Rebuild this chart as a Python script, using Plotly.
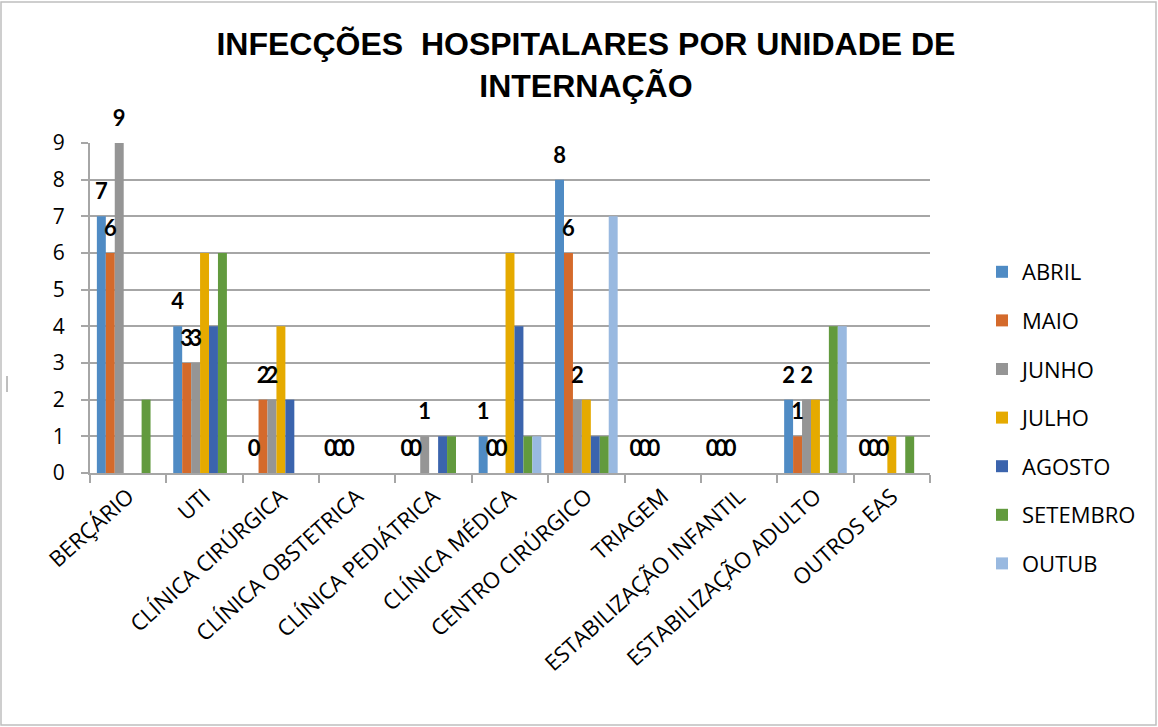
import plotly.graph_objects as go

categories = ["BERÇÁRIO", "UTI", "CLÍNICA CIRÚRGICA", "CLÍNICA OBSTETRICA",
              "CLÍNICA PEDIÁTRICA", "CLÍNICA MÉDICA", "CENTRO CIRÚRGICO",
              "TRIAGEM", "ESTABILIZAÇÃO INFANTIL", "ESTABILIZAÇÃO ADULTO", "OUTROS EAS"]

abril    = [7, 4, 0, 0, 0, 1, 8, 0, 0, 2, 0]
maio     = [6, 3, 2, 0, 0, 0, 6, 0, 0, 1, 0]
junho    = [9, 3, 2, 0, 1, 0, 2, 0, 0, 2, 0]
julho    = [0, 6, 4, 0, 0, 6, 2, 0, 0, 2, 1]
agosto   = [0, 4, 2, 0, 1, 4, 1, 0, 0, 0, 0]
setembro = [2, 6, 0, 0, 1, 1, 1, 0, 0, 4, 1]
outub    = [0, 0, 0, 0, 0, 1, 7, 0, 0, 4, 0]

series_names = ["ABRIL", "MAIO", "JUNHO", "JULHO", "AGOSTO", "SETEMBRO", "OUTUB"]
series_values = [abril, maio, junho, julho, agosto, setembro, outub]
labeled_series = ["ABRIL", "MAIO", "JUNHO"]
colors = ["#4F8BC4", "#D46A2B", "#959595", "#E5AA00", "#3B64AD", "#629A3E", "#99B9E0"]

fig = go.Figure()
for name, vals, col in zip(series_names, series_values, colors):
    fig.add_trace(go.Bar(
        x=categories, y=vals, name=name, legendgroup=name,
        marker=dict(color=col, line=dict(width=0)),
    ))

for name, vals in zip(series_names, series_values):
    txt = [str(v) for v in vals] if name in labeled_series else ["" for v in vals]
    fig.add_trace(go.Scatter(
        x=categories, y=vals, mode="markers+text", text=txt,
        textposition="top center",
        textfont=dict(family="Lato", size=22, color="black", weight="bold"),
        marker=dict(size=17, opacity=0),
        showlegend=False, hoverinfo="skip", cliponaxis=False,
    ))

L, R, T, B = 90, 228, 143, 254
pw = 1158 - L - R
ph = 727 - T - B

fig.update_layout(
    width=1158, height=727, autosize=False,
    margin=dict(l=L, r=R, t=T, b=B, pad=0),
    paper_bgcolor="white", plot_bgcolor="white",
    barmode="group", bargap=0.18, bargroupgap=0,
    scattermode="group", scattergap=0.18,
    title=dict(
        text="INFECÇÕES\u00a0 HOSPITALARES POR UNIDADE DE<br>INTERNAÇÃO",
        font=dict(family="Liberation Sans", size=32, color="black", weight="bold"),
        x=0.506, xanchor="center", y=1 - 55 / 727, yanchor="middle",
    ),
    font=dict(family="Open Sans", color="black"),
    legend=dict(
        x=(982 - L) / pw, xanchor="left", y=(473 - 251) / ph, yanchor="top",
        font=dict(family="Open Sans", size=22, color="black"),
        tracegroupgap=17, itemwidth=30, bgcolor="rgba(0,0,0,0)",
        maxheight=500,
    ),
    showlegend=True,
)

fig.update_yaxes(
    range=[0, 9], dtick=1, showgrid=True, gridcolor="#A6A6A6", gridwidth=2,
    showline=True, linecolor="#A6A6A6", linewidth=2,
    ticks="outside", ticklen=7, tickcolor="#A6A6A6", tickwidth=2,
    ticklabelstandoff=12,
    tickfont=dict(family="Open Sans", size=21, color="black"),
    zeroline=False,
)
fig.update_xaxes(
    showline=True, linecolor="#A6A6A6", linewidth=2,
    ticks="outside", tickson="boundaries", ticklen=8, tickcolor="#A6A6A6", tickwidth=2,
    tickangle=-42, tickfont=dict(family="Open Sans", size=22, color="black"),
)

# outer chart frame
fig.add_shape(type="rect", xref="paper", yref="paper",
              x0=(1 - L) / pw, x1=(1156 - L) / pw,
              y0=-(B - 2) / ph, y1=(ph + T - 2) / ph,
              line=dict(color="#BFBFBF", width=1.5), fillcolor="rgba(0,0,0,0)", layer="below")
# small stray mark at left edge
fig.add_shape(type="line", xref="paper", yref="paper",
              x0=(7 - L) / pw, x1=(7 - L) / pw,
              y0=(473 - 392) / ph, y1=(473 - 376) / ph,
              line=dict(color="#7F7F7F", width=1))

fig.write_html("out.html", config={"displayModeBar": False},
               post_script="document.body.style.margin='0';")
